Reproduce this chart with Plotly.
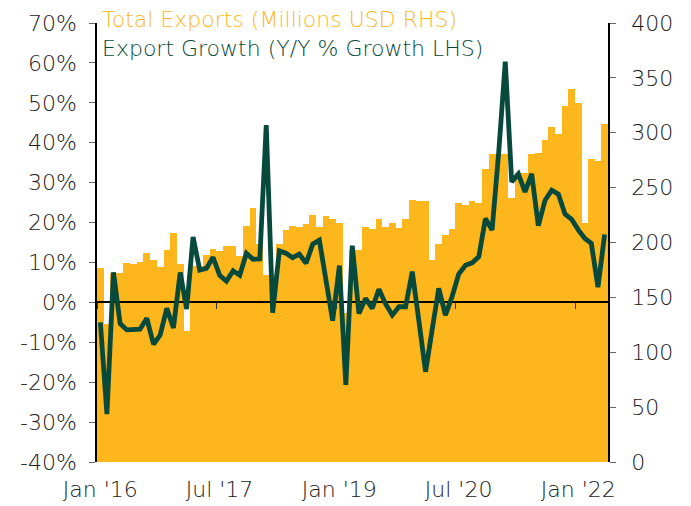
import pandas as pd
import plotly.graph_objects as go

months = pd.date_range("2016-01-01", periods=77, freq="MS")

exports_musd = [
    177, 126, 172, 172, 181, 180, 182, 190, 184, 178, 193, 209,
    180, 119, 179, 179, 189, 194, 192, 197, 197, 188, 215, 231,
    199, 170, 170, 199, 211, 215, 214, 217, 225, 214, 224, 221,
    218, 136, 193, 193, 214, 212, 221, 214, 218, 213, 221, 239,
    238, 238, 184, 199, 207, 212, 236, 234, 238, 236, 267, 281,
    281, 281, 241, 263, 263, 281, 282, 293, 305, 299, 324, 340,
    327, 218, 276, 274, 308,
]

growth_pct = [
    -5.0, -28.0, 7.5, -5.3, -6.9, -6.9, -6.7, -4.0, -10.5, -8.2, -1.5, -6.4,
    7.5, -1.7, 16.4, 8.1, 8.5, 11.3, 6.8, 5.3, 7.9, 6.8, 12.3, 10.8,
    10.9, 44.4, -2.6, 12.9, 12.3, 11.2, 12.1, 9.8, 14.6, 15.6, 5.6, -4.6,
    9.2, -20.7, 14.2, -2.8, 1.0, -1.5, 3.3, -0.4, -3.2, -1.1, -1.1, 7.7,
    -4.9, -17.4, -6.9, 3.5, -3.2, 1.4, 7.1, 9.3, 9.9, 11.4, 21.0, 18.1,
    38.0, 60.3, 30.2, 32.2, 27.7, 32.2, 19.2, 25.6, 28.1, 27.1, 22.1, 20.8,
    18.1, 16.0, 14.8, 3.8, 17.0,
]

tick_months = ["2016-01", "2017-07", "2019-01", "2020-07", "2022-01"]
tick_text = ["Jan '16", "Jul '17", "Jan '19", "Jul '20", "Jan '22"]

left_vals = [-40, -30, -20, -10, 0, 10, 20, 30, 40, 50, 60, 70]
right_vals = [0, 50, 100, 150, 200, 250, 300, 350, 400]

BAR = "#FDB71C"
GREEN = "#07493A"
TXT = "#1a1a1a"
FONT = "DejaVu Sans"
FS = 22

widths = [d * 86400000 for d in months.days_in_month]
tick_starts = [f"{m}-01" for m in tick_months]
tick_mids = [f"{m}-16" for m in tick_months]

fig = go.Figure()
fig.add_trace(go.Bar(
    x=months, y=exports_musd, xperiod="M1", xperiodalignment="middle",
    width=widths, marker=dict(color=BAR, line=dict(width=0)),
    xaxis="x", yaxis="y", name="Total Exports (Millions USD RHS)",
))
fig.add_trace(go.Scatter(
    x=months, y=growth_pct, xperiod="M1", xperiodalignment="middle",
    mode="lines", line=dict(color=GREEN, width=4.8),
    xaxis="x2", yaxis="y2", name="Export Growth (Y/Y % Growth LHS)",
))

x_range = ["2016-01-01", "2022-06-01"]
zero_pos = (0 - (-40)) / (70 - (-40))
tfont = dict(family=FONT, size=FS, color=TXT, weight=300)

fig.update_layout(
    width=691, height=506,
    margin=dict(l=88.5, r=91, t=15, b=52, autoexpand=False),
    paper_bgcolor="white", plot_bgcolor="rgba(0,0,0,0)",
    showlegend=False, bargap=0,
    font=dict(family=FONT, size=FS, color=TXT),
    xaxis=dict(
        type="date", range=x_range, tickvals=tick_mids, ticktext=tick_text,
        showgrid=False, zeroline=False, showline=False, ticks="",
        tickfont=tfont, ticklabelstandoff=12, anchor="y",
    ),
    xaxis2=dict(
        type="date", range=x_range, anchor="free", domain=[0, 1],
        position=zero_pos, tickvals=tick_starts, showticklabels=False,
        showgrid=False, zeroline=False, showline=True, linecolor="black",
        linewidth=1.5, ticks="outside", ticklen=6, tickcolor="#333333",
        tickwidth=1, layer="below traces",
    ),
    yaxis=dict(
        side="right", range=[0, 400], tickvals=right_vals, anchor="x",
        showgrid=False, zeroline=False, showline=True, linecolor="black",
        linewidth=1.5, ticks="outside", ticklen=6, tickcolor="#666666",
        tickfont=tfont, ticklabelstandoff=11,
    ),
    yaxis2=dict(
        side="left", anchor="x2", domain=[0, 1], range=[-40, 70],
        tickvals=left_vals, ticktext=[f"{v}%" for v in left_vals],
        showgrid=False, zeroline=False, showline=True, linecolor="black",
        linewidth=1.5, ticks="outside", ticklen=6, tickcolor="#666666",
        tickfont=tfont, ticklabelstandoff=8,
    ),
    annotations=[
        dict(text="Total Exports (Millions USD RHS)", xref="paper", yref="paper",
             x=0.005, y=1.007, xanchor="left", yanchor="middle", showarrow=False,
             font=dict(family=FONT, size=FS, color=BAR, weight=300)),
        dict(text="Export Growth (Y/Y % Growth LHS)", xref="paper", yref="paper",
             x=0.005, y=0.943, xanchor="left", yanchor="middle", showarrow=False,
             font=dict(family=FONT, size=FS, color=GREEN, weight=300)),
    ],
)

fig.write_html("out.html")
